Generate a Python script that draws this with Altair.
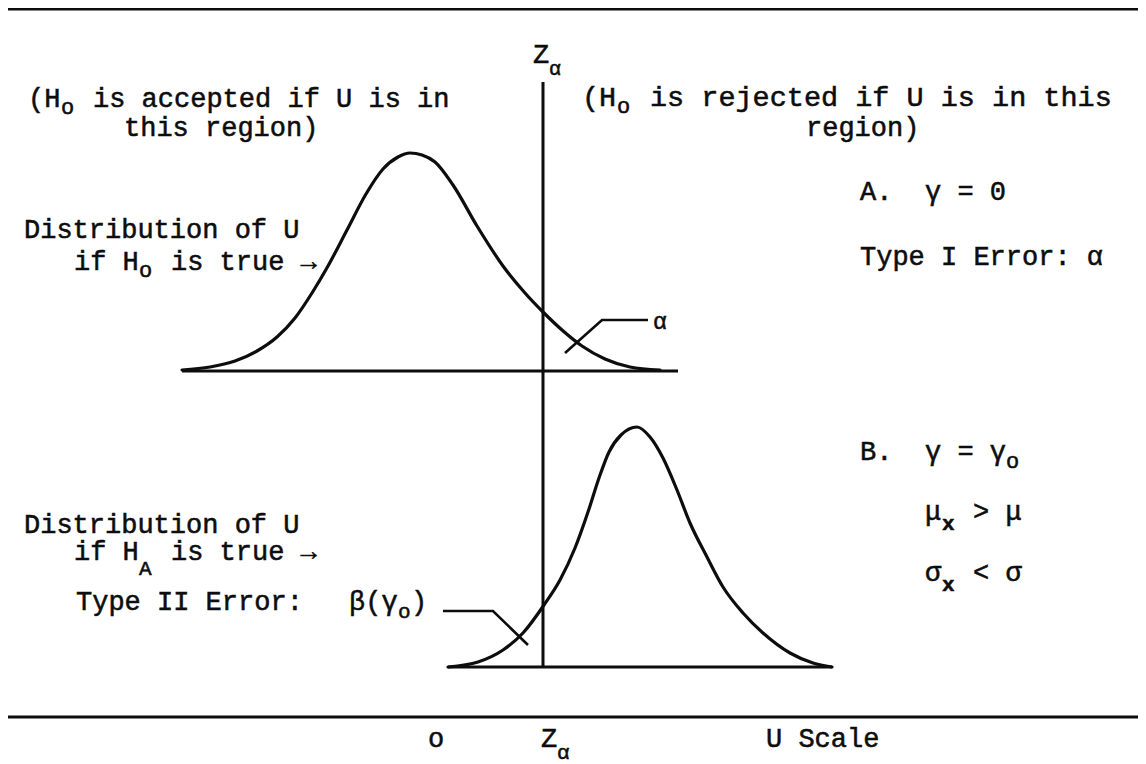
import altair as alt
import pandas as pd

# ---- data (page-pixel units: U position, vertical position) ----
h0_u = [182, 210, 235, 257, 277, 295, 312, 328, 347, 366, 383, 398, 410,
        422, 435, 453, 477, 503, 525, 543, 562, 582, 605, 630, 660]
h0_y = [370, 367, 361, 351, 337, 318, 293, 266, 230, 194, 169, 157, 153,
        155, 162, 185, 226, 266, 293, 312, 330, 346, 359, 367, 370]
ha_u = [448, 478, 503, 523, 544, 560, 575, 588, 599, 609, 621, 637,
        650, 663, 677, 690, 707, 723, 743, 763, 790, 813, 832]
ha_y = [667, 662, 650, 633, 605, 580, 548, 512, 478, 452, 435, 427,
        437, 458, 490, 523, 557, 587, 613, 633, 653, 663, 667]

# straight rules: name, x, x2, y, y2
rule_names = ["top_frame", "bottom_frame", "h0_base", "ha_base", "z_alpha"]
rule_x = [8, 8, 182, 448, 543]
rule_x2 = [1146, 1146, 678, 832, 543]
rule_y = [9, 717, 371, 667, 82]
rule_y2 = [9, 717, 371, 667, 667]

# pointer polylines
alpha_ptr_u = [565, 602, 648]
alpha_ptr_y = [353, 320, 320]
beta_ptr_u = [443, 493, 528]
beta_ptr_y = [611, 611, 645]

# typewritten text pieces (regular size)
lab_text = [
    "(H", "is accepted if U is in", "this region)",
    "region)",
    "Z",
    "Distribution of U", "if H", "is true \u2192",
    "A.", "\u03b3 = 0", "Type I Error: \u03b1",
    "B.", "\u03b3 = \u03b3", "\u03bc", "> \u03bc", "\u03c3", "< \u03c3",
    "Distribution of U", "if H", "is true \u2192",
    "Type II Error:", "\u03b2(\u03b3", ")",
    "o", "Z", "U Scale",
]
lab_x = [28, 93, 124,
         806,
         533,
         24, 74, 171,
         860, 925, 860,
         860, 925, 925, 973, 925, 973,
         24, 74, 171,
         76, 349, 411,
         428, 541, 766]
lab_y = [107, 107, 136,
         136,
         63,
         238, 270, 270,
         200, 200, 265,
         460, 460, 520, 520, 581, 581,
         533, 560, 560,
         610, 610, 610,
         747, 747, 747]

# the slightly wider right-hand heading
wide_text = ["(H", "is rejected if U is in this"]
wide_x = [582, 650]
wide_y = [106, 106]

# subscripts and small symbols
sub_text = ["o", "o", "\u03b1", "o", "o", "A", "o", "\u03b1", "\u03b1"]
sub_x = [61, 617, 549, 139, 1006, 139, 398, 557, 653]
sub_y = [114, 113, 75, 277, 468, 575, 618, 759, 329]
sub_size = [22, 22, 20, 22, 22, 21, 21, 21, 23]

bold_sub_text = ["x", "x"]
bold_sub_x = [942, 942]
bold_sub_y = [530, 591]


def nb(s):
    return s.replace(" ", "\u00a0")


# ---- build tables ----
curves = pd.concat([
    pd.DataFrame({"u": h0_u, "v": h0_y, "curve": "H0", "i": range(len(h0_u))}),
    pd.DataFrame({"u": ha_u, "v": ha_y, "curve": "HA", "i": range(len(ha_u))}),
])
rules = pd.DataFrame({"name": rule_names, "x": rule_x, "x2": rule_x2, "y": rule_y, "y2": rule_y2})
edge = pd.DataFrame({"x": [8], "y": [8], "y2": [764]})
ptrs = pd.concat([
    pd.DataFrame({"u": alpha_ptr_u, "v": alpha_ptr_y, "p": "alpha", "i": range(3)}),
    pd.DataFrame({"u": beta_ptr_u, "v": beta_ptr_y, "p": "beta", "i": range(3)}),
])
labels = pd.DataFrame({"t": [nb(s) for s in lab_text], "x": lab_x, "y": lab_y})
wide = pd.DataFrame({"t": [nb(s) for s in wide_text], "x": wide_x, "y": wide_y})
subs = pd.DataFrame({"t": sub_text, "x": sub_x, "y": sub_y, "s": sub_size})
bsubs = pd.DataFrame({"t": bold_sub_text, "x": bold_sub_x, "y": bold_sub_y})

XS = alt.Scale(domain=[8, 1138], nice=False, zero=False)
YS = alt.Scale(domain=[8, 764], nice=False, zero=False, reverse=True)
INK = "#0d0d0d"
FONT = "Liberation Mono"
TXT = dict(font=FONT, align="left", baseline="alphabetic", color=INK, stroke=INK, strokeWidth=0.55)

X = lambda f: alt.X(f, scale=XS, axis=None)
Y = lambda f: alt.Y(f, scale=YS, axis=None)

curve_layer = alt.Chart(curves).mark_line(
    color=INK, strokeWidth=3.2, interpolate="monotone", strokeCap="round"
).encode(x=X("u:Q"), y=Y("v:Q"), detail="curve:N", order="i:Q")

rule_layer = alt.Chart(rules).mark_rule(color=INK, strokeWidth=3).encode(
    x=X("x:Q"), x2="x2:Q", y=Y("y:Q"), y2="y2:Q"
)

edge_layer = alt.Chart(edge).mark_rule(color="white", strokeWidth=3).encode(
    x=X("x:Q"), y=Y("y:Q"), y2="y2:Q"
)

ptr_layer = alt.Chart(ptrs).mark_line(color=INK, strokeWidth=2.6).encode(
    x=X("u:Q"), y=Y("v:Q"), detail="p:N", order="i:Q"
)

text_layer = alt.Chart(labels).mark_text(fontSize=27, **TXT).encode(
    x=X("x:Q"), y=Y("y:Q"), text="t:N"
)

wide_layer = alt.Chart(wide).mark_text(fontSize=28.5, **TXT).encode(
    x=X("x:Q"), y=Y("y:Q"), text="t:N"
)

sub_layer = alt.Chart(subs).mark_text(**TXT).encode(
    x=X("x:Q"), y=Y("y:Q"), text="t:N",
    size=alt.Size("s:Q", scale=None, legend=None),
)

bsub_layer = alt.Chart(bsubs).mark_text(fontSize=21, fontWeight="bold", **TXT).encode(
    x=X("x:Q"), y=Y("y:Q"), text="t:N"
)

chart = alt.layer(
    edge_layer, rule_layer, curve_layer, ptr_layer, text_layer, wide_layer, sub_layer, bsub_layer
).properties(
    width=1130, height=756, padding=0, autosize=alt.AutoSizeParams(type="none")
).configure_view(strokeWidth=0, stroke="transparent").configure(background="white")

chart.save("out.html", embed_options={"renderer": "svg", "actions": False})
